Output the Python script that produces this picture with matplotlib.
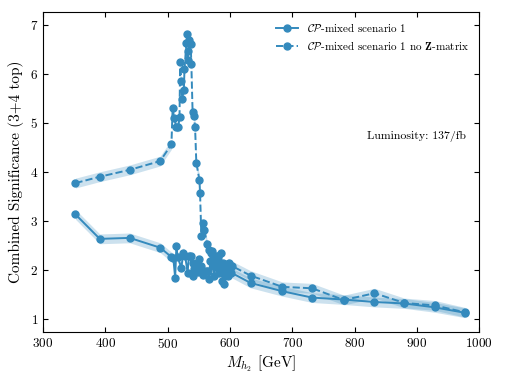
import matplotlib
matplotlib.use("Agg")
import matplotlib.pyplot as plt
import numpy as np

plt.rcParams["font.family"] = "serif"
plt.rcParams["font.serif"] = ["cmr10"]
plt.rcParams["mathtext.fontset"] = "cm"
plt.rcParams["axes.formatter.use_mathtext"] = True
plt.rcParams["axes.unicode_minus"] = False

# scenario 1 (with Z-matrix)
mass_a = [352, 391, 439, 488, 506, 509, 512, 514, 516, 522, 525, 528, 532, 534, 537, 540, 541,
          543, 546, 548, 551, 553, 556, 558, 561, 565, 567, 568, 571, 573, 575, 578, 581, 583,
          586, 588, 590, 593, 595, 597, 600, 602, 633, 684, 732, 783, 832, 880, 929, 977]
sig_a = [3.13, 2.63, 2.65, 2.45, 2.26, 2.24, 1.84, 2.48, 2.26, 2.04, 2.35, 2.28, 1.94, 2.28,
         2.27, 1.87, 2.14, 2.01, 2.07, 1.95, 2.22, 2.07, 1.90, 1.95, 1.97, 1.97, 1.80, 2.18,
         2.38, 2.07, 1.87, 2.28, 2.04, 1.94, 2.35, 1.77, 1.70, 2.01, 2.11, 1.87, 2.07, 1.94,
         1.73, 1.56, 1.43, 1.39, 1.34, 1.31, 1.23, 1.12]

# scenario 1, no Z-matrix
mass_b = [352, 391, 439, 488, 506, 508, 510, 514, 517, 519, 520, 522, 523, 526, 527, 530, 531,
          532, 533, 535, 537, 538, 540, 542, 544, 546, 551, 552, 554, 557, 559, 563, 566, 570,
          574, 577, 581, 583, 586, 589, 592, 595, 598, 600, 604, 633, 684, 732, 783, 832, 880,
          929, 977]
sig_b = [3.77, 3.90, 4.04, 4.22, 4.56, 5.31, 5.11, 4.92, 4.92, 5.12, 6.25, 5.86, 5.48, 5.68,
         6.10, 6.63, 6.82, 6.29, 6.46, 6.70, 6.62, 6.20, 5.23, 5.14, 4.91, 4.18, 3.83, 3.56,
         2.69, 2.95, 2.82, 2.53, 2.41, 2.35, 2.21, 2.07, 2.28, 2.14, 1.97, 2.14, 1.90, 2.07,
         2.14, 1.97, 2.07, 1.88, 1.65, 1.62, 1.38, 1.52, 1.32, 1.27, 1.13]

band = 0.1
color = "#348ABD"

fig = plt.figure(figsize=(5.07, 3.81), dpi=100)
ax = fig.add_axes([0.085, 0.129, 0.86, 0.84])

ax.fill_between(mass_a, np.array(sig_a) - band, np.array(sig_a) + band, color=color, alpha=0.25, lw=0)
ax.fill_between(mass_b, np.array(sig_b) - band, np.array(sig_b) + band, color=color, alpha=0.25, lw=0)
ax.plot(mass_a, sig_a, "-o", color=color, ms=5, lw=1.4, label=r"$\mathcal{CP}$-mixed scenario 1")
ax.plot(mass_b, sig_b, "--o", color=color, ms=5, lw=1.4,
        label=r"$\mathcal{CP}$-mixed scenario 1 no $\mathbf{Z}$-matrix")

ax.set_xlim(300, 1000)
ax.set_ylim(0.73, 7.27)
ax.set_xticks(range(300, 1001, 100))
ax.set_yticks(range(1, 8))
ax.tick_params(direction="in", top=True, right=True, labelsize=9.5)
ax.set_xlabel(r"$M_{h_2}$ [GeV]", fontsize=11, labelpad=2)
ax.set_ylabel("Combined Significance (3+4 top)", fontsize=11)
ax.text(0.97, 0.61, "Luminosity: 137/fb", transform=ax.transAxes, ha="right", va="center", fontsize=8.5)
ax.legend(loc="upper right", frameon=False, fontsize=8)

fig.savefig("out.png", dpi=100)
